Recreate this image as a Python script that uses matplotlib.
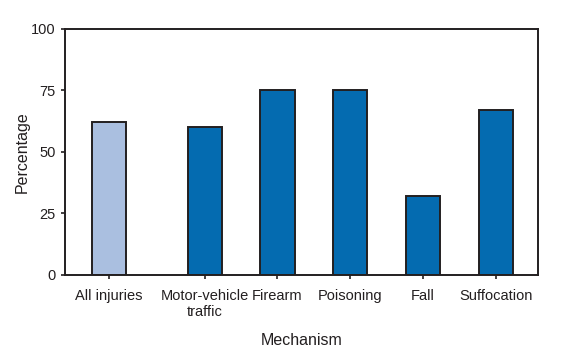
import matplotlib
matplotlib.use('Agg')
import matplotlib.pyplot as plt

# mechanism categories and percentages
categories = ['All injuries', 'Motor-vehicle\ntraffic', 'Firearm', 'Poisoning', 'Fall', 'Suffocation']
values = [62, 60, 75, 75, 32, 67]
positions = [0, 1.315, 2.315, 3.315, 4.315, 5.315]
yticks = [0, 25, 50, 75, 100]

plt.rcParams['font.family'] = ['Liberation Sans', 'DejaVu Sans']
ink = '#231f20'

fig = plt.figure(figsize=(5.88, 3.54), dpi=100)
ax = fig.add_axes([0.1105, 0.2232, 0.8045, 0.695])

colors = ['#aabfe0'] + ['#046bb0'] * (len(values) - 1)
ax.bar(positions, values, width=0.47, color=colors, edgecolor=ink, linewidth=1.4)

ax.set_xlim(-0.605, 5.896)
ax.set_ylim(0, 100)
ax.set_yticks(yticks)
ax.set_xticks(positions)
ax.set_xticklabels(categories, fontsize=10.5, color=ink, linespacing=1.2)
ax.tick_params(axis='y', labelsize=10.5, labelcolor=ink, color=ink, width=1.2, length=3)
ax.tick_params(axis='x', color=ink, width=1.2, length=3, pad=7)

for s in ax.spines.values():
    s.set_color(ink)
    s.set_linewidth(1.4)

ax.set_ylabel('Percentage', fontsize=11.5, color=ink, labelpad=1)
ax.set_xlabel('Mechanism', fontsize=11.5, color=ink, labelpad=10)

fig.savefig('out.png', dpi=100)
